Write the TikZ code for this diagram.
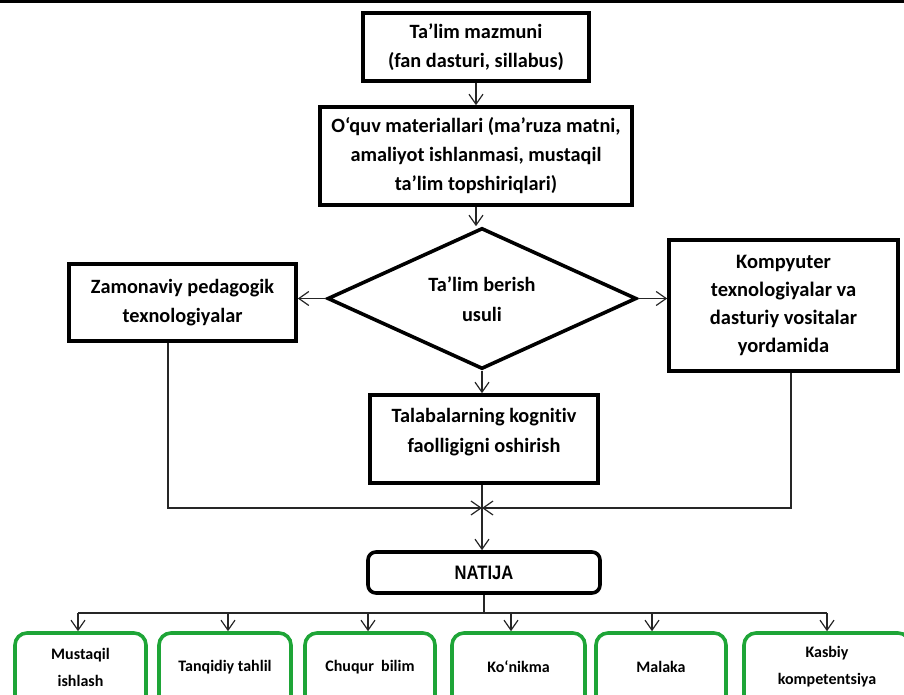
\documentclass[tikz,border=0pt]{standalone}
\usepackage{fontspec}
\setmainfont{Carlito}[Ligatures={NoCommon}]
\newfontfamily\narrowbold[FakeStretch=0.85]{Liberation Sans}
\usetikzlibrary{arrows.meta,shapes.geometric}
\definecolor{boxgreen}{RGB}{30,165,55}

\tikzset{
  x=1pt, y=-1pt,
  frame/.style={draw=black, line width=3.6pt, fill=white, inner sep=0pt,
    align=center, font=\bfseries\fontsize{20.3}{29}\selectfont},
  caption/.style={inner sep=0pt, align=center,
    font=\bfseries\fontsize{20.3}{30}\selectfont},
  rounded/.style={frame, rounded corners=8pt},
  result/.style={draw=boxgreen, line width=3.6pt, fill=white,
    rounded corners=12pt, inner sep=0pt},
  resulttext/.style={inner sep=0pt, align=center,
    font=\bfseries\fontsize{16}{27}\selectfont},
  conn/.style={draw=black!85, line width=1.2pt},
  arr/.style={conn, -{Straight Barb[length=10pt,width=14pt]}},
}

\begin{document}
\begin{tikzpicture}
\useasboundingbox (0,0) rectangle (904,695);
\clip (0,0) rectangle (904,695);

% rule along the top edge
\draw[line width=3.5pt] (0,1.5) -- (904,1.5);

% main column
\node[frame, minimum width=226pt, minimum height=68pt] (content) at (476,47)
  {Ta’lim mazmuni\\(fan dasturi, sillabus)};
\node[frame, minimum width=312pt, minimum height=98pt] (materials) at (476,156)
  {O‘quv materiallari (ma’ruza matni,\\amaliyot ishlanmasi, mustaqil\\ta’lim topshiriqlari)};
\node[draw=black, line width=3.6pt, fill=white, shape=diamond, inner sep=0pt,
  minimum width=309pt, minimum height=141pt] (method) at (482,298.5) {};
\node[caption] (methodtext) at (482,299) {Ta’lim berish\\usuli};
\node[frame, minimum width=228pt, minimum height=88pt] (cognitive) at (484,439) {};
\node[caption] (cognitivetext) at (484,432) {Talabalarning kognitiv\\faolligigni oshirish};

% side boxes
\node[frame, minimum width=227pt, minimum height=77pt] (pedagogy) at (182.5,302.5)
  {Zamonaviy pedagogik\\texnologiyalar};
\node[frame, minimum width=229pt, minimum height=131pt, font=\bfseries\fontsize{20.5}{28}\selectfont]
  (computer) at (783.5,305.5)
  {Kompyuter\\texnologiyalar va\\dasturiy vositalar\\yordamida};

% result
\node[rounded, minimum width=232pt, minimum height=41pt,
  font=\narrowbold\bfseries\fontsize{19.5}{23}\selectfont] (result) at (484,572.5) {NATIJA};

% outcome boxes
\node[result, minimum width=131pt, minimum height=90pt] (g1) at (80.5,678) {};
\node[result, minimum width=132pt, minimum height=90pt] (g2) at (225,678) {};
\node[result, minimum width=130pt, minimum height=90pt] (g3) at (370,678) {};
\node[result, minimum width=133pt, minimum height=90pt] (g4) at (518.5,678) {};
\node[result, minimum width=130pt, minimum height=90pt] (g5) at (661,678) {};
\node[result, minimum width=166pt, minimum height=90pt] (g6) at (827,678) {};

\node[resulttext] (g1t) at (80.5,667) {Mustaqil\\ishlash};
\node[resulttext] (g2t) at (225,667) {Tanqidiy tahlil};
\node[resulttext] (g3t) at (370,667) {Chuqur\ \ bilim};
\node[resulttext] (g4t) at (518.5,667) {Ko‘nikma};
\node[resulttext] (g5t) at (661,667) {Malaka};
\node[resulttext] (g6t) at (827,667) {Kasbiy\\kompetentsiya};

% junction points
\coordinate (join) at (482,508);
\coordinate (bus) at (484,613);

% connectors of the main column
\draw[arr] (content.south) -- (materials.north);
\draw[arr] (materials.south) -- (materials.south |- method.north);
\draw[arr] (method.west) -- (method.west -| pedagogy.east);
\draw[arr] (method.east) -- (method.east -| computer.west);
\draw[arr] (method.south) -- (method.south |- cognitive.north);
\draw[arr] ([xshift=-14.5pt]pedagogy.south) |- (join);
\draw[arr] ([xshift=7.5pt]computer.south) |- (join);
\draw[arr] (method.south |- cognitive.south) -- (method.south |- result.north);

% distribution bus to the outcomes
\draw[conn] (result.south) -- (result.south |- bus);
\draw[conn] ([xshift=-2.5pt]g1.north |- bus) -- (g6.north |- bus);
\draw[arr] ([xshift=-2.5pt]g1.north |- bus) -- ([xshift=-2.5pt]g1.north);
\draw[arr] ([xshift=3pt]g2.north |- bus) -- ([xshift=3pt]g2.north);
\draw[arr] ([xshift=-2pt]g3.north |- bus) -- ([xshift=-2pt]g3.north);
\draw[arr] ([xshift=-7.5pt]g4.north |- bus) -- ([xshift=-7.5pt]g4.north);
\draw[arr] ([xshift=-9pt]g5.north |- bus) -- ([xshift=-9pt]g5.north);
\draw[arr] (g6.north |- bus) -- (g6.north);
\end{tikzpicture}
\end{document}
